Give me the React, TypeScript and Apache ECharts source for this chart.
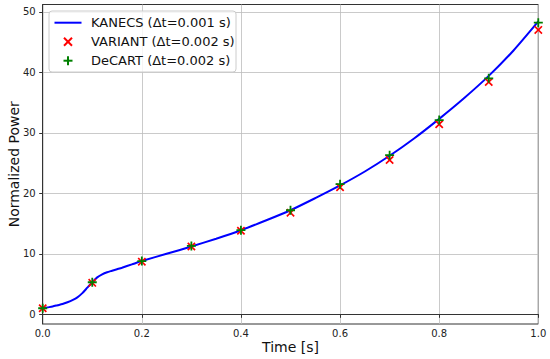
import React, { useEffect, useRef } from "react";
import * as echarts from "echarts";

// KANECS reference curve (Δt = 0.001 s)
const curveT = [0, 0.01, 0.02, 0.03, 0.04, 0.05, 0.06, 0.07, 0.08, 0.09, 0.1, 0.11, 0.12, 0.13, 0.14, 0.15, 0.16, 0.18, 0.2, 0.25, 0.3, 0.35, 0.4, 0.45, 0.5, 0.55, 0.6, 0.65, 0.7, 0.75, 0.8, 0.85, 0.9, 0.95, 1.0];
const curveP = [1.0, 1.15, 1.3, 1.5, 1.7, 2.0, 2.35, 2.8, 3.5, 4.4, 5.3, 6.1, 6.6, 6.95, 7.2, 7.45, 7.7, 8.25, 8.8, 10.0, 11.2, 12.5, 13.9, 15.5, 17.2, 19.2, 21.3, 23.6, 26.2, 29.1, 32.3, 35.7, 39.4, 43.6, 48.4];

// Sampled code results (Δt = 0.002 s)
const sampleT = [0, 0.1, 0.2, 0.3, 0.4, 0.5, 0.6, 0.7, 0.8, 0.9, 1.0];
const variantP = [1.0, 5.2, 8.7, 11.2, 13.8, 16.8, 21.0, 25.5, 31.4, 38.4, 47.0];
const decartP = [1.0, 5.3, 8.8, 11.3, 13.9, 17.2, 21.5, 26.3, 32.1, 39.0, 48.2];

const xTicks = [0, 0.2, 0.4, 0.6, 0.8, 1.0];
const yTicks = [0, 10, 20, 30, 40, 50];

const seriesNames = ["KANECS (Δt=0.001 s)", "VARIANT (Δt=0.002 s)", "DeCART (Δt=0.002 s)"];

const FONT = "DejaVu Sans";
const X_PATH = "path://M0,1.4L1.4,0L5,3.6L8.6,0L10,1.4L6.4,5L10,8.6L8.6,10L5,6.4L1.4,10L0,8.6L3.6,5Z";
const PLUS_PATH = "path://M4,0H6V4H10V6H6V10H4V6H0V4H4Z";

export default function App() {
  const ref = useRef<HTMLDivElement>(null);
  useEffect(() => {
    if (!ref.current) return;
    const chart = echarts.init(ref.current, undefined, { renderer: "svg" });
    const lgX = 49, lgY = 11, rowH = 19;
    const rowY = (i: number) => lgY + 11.7 + i * rowH;
    const legendGraphics: any[] = [
      {
        type: "rect",
        shape: { x: lgX, y: lgY, width: 187, height: 61, r: 3 },
        style: { fill: "rgba(255,255,255,0.8)", stroke: "#cccccc", lineWidth: 1 },
        z: 100,
      },
      {
        type: "line",
        shape: { x1: 54.5, y1: rowY(0), x2: 81.5, y2: rowY(0) },
        style: { stroke: "#0000ff", lineWidth: 2 },
        z: 101,
      },
      {
        type: "line",
        shape: { x1: 64, y1: rowY(1) - 4, x2: 72, y2: rowY(1) + 4 },
        style: { stroke: "#ff0000", lineWidth: 2 },
        z: 101,
      },
      {
        type: "line",
        shape: { x1: 64, y1: rowY(1) + 4, x2: 72, y2: rowY(1) - 4 },
        style: { stroke: "#ff0000", lineWidth: 2 },
        z: 101,
      },
      {
        type: "line",
        shape: { x1: 63.5, y1: rowY(2), x2: 72.5, y2: rowY(2) },
        style: { stroke: "#008000", lineWidth: 2 },
        z: 101,
      },
      {
        type: "line",
        shape: { x1: 68, y1: rowY(2) - 4.5, x2: 68, y2: rowY(2) + 4.5 },
        style: { stroke: "#008000", lineWidth: 2 },
        z: 101,
      },
    ];
    seriesNames.forEach((n, i) => {
      legendGraphics.push({
        type: "text",
        x: 91,
        y: rowY(i),
        style: { text: n, font: `13px '${FONT}'`, fill: "#111", verticalAlign: "middle", align: "left" },
        z: 101,
      });
    });

    chart.setOption({
      animation: false,
      backgroundColor: "#ffffff",
      textStyle: { fontFamily: FONT },
      grid: {
        left: 42.7,
        right: 11.7,
        top: 4.5,
        bottom: 35,
        containLabel: false,
        outerBoundsMode: "none",
        show: true,
        borderColor: "#333",
        borderWidth: 1,
        backgroundColor: "transparent",
      },
      xAxis: {
        type: "value",
        min: 0,
        max: 1,
        interval: 0.2,
        name: "Time [s]",
        nameLocation: "middle",
        nameGap: 16,
        nameMoveOverlap: false,
        nameTextStyle: { fontSize: 14, color: "#111", fontFamily: FONT },
        axisLine: { show: true, lineStyle: { color: "#333", width: 1 } },
        axisTick: { show: true, inside: false, length: 3.5, lineStyle: { color: "#333" } },
        axisLabel: {
          fontSize: 10,
          color: "#222",
          margin: 4,
          fontFamily: FONT,
          formatter: (v: number) => (xTicks.some((t) => Math.abs(t - v) < 1e-9) ? v.toFixed(1) : ""),
        },
        splitLine: { show: true, lineStyle: { color: "#bdbdbd", width: 0.8 } },
      },
      yAxis: {
        type: "value",
        min: -1.6,
        max: 51.2,
        splitNumber: 5,
        name: "Normalized Power",
        nameLocation: "middle",
        nameGap: 22,
        nameMoveOverlap: false,
        nameTextStyle: { fontSize: 14, color: "#111", fontFamily: FONT },
        axisLine: { show: true, lineStyle: { color: "#333", width: 1 } },
        axisTick: { show: true, inside: false, length: 3.5, lineStyle: { color: "#333" }, customValues: yTicks },
        axisLabel: {
          fontSize: 10,
          color: "#222",
          margin: 7,
          fontFamily: FONT,
          customValues: yTicks,
          formatter: (v: number) => String(Math.round(v)),
        },
        splitLine: { show: true, lineStyle: { color: "#bdbdbd", width: 0.8 } },
      },
      series: [
        {
          name: seriesNames[0],
          type: "line",
          data: curveT.map((t, i) => [t, curveP[i]]),
          showSymbol: false,
          symbol: "none",
          smooth: 0.25,
          lineStyle: { color: "#0000ff", width: 2 },
          z: 3,
        },
        {
          name: seriesNames[1],
          type: "scatter",
          data: sampleT.map((t, i) => [t, variantP[i]]),
          symbol: X_PATH,
          symbolSize: 8.5,
          itemStyle: { color: "#ff0000", opacity: 1 },
          z: 4,
        },
        {
          name: seriesNames[2],
          type: "scatter",
          data: sampleT.map((t, i) => [t, decartP[i]]),
          symbol: PLUS_PATH,
          symbolSize: 9,
          itemStyle: { color: "#008000", opacity: 1 },
          z: 5,
        },
      ],
      graphic: legendGraphics,
    });
    return () => chart.dispose();
  }, []);
  return <div ref={ref} style={{ position: "fixed", left: 0, top: 0, width: 550, height: 359 }} />;
}
